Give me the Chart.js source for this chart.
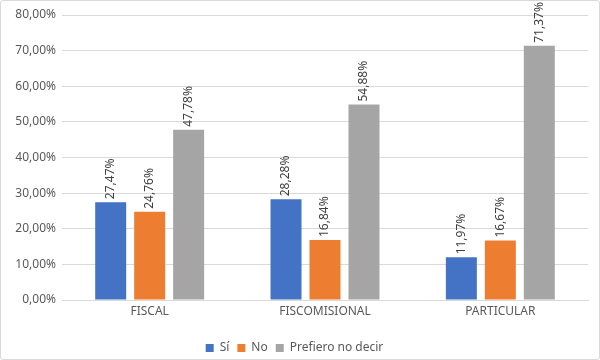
<!DOCTYPE html>
<html>
<head>
<meta charset="utf-8">
<script src="https://cdn.jsdelivr.net/npm/chart.js@4.4.1/dist/chart.umd.min.js"></script>
<style>
  html, body { margin: 0; padding: 0; background: #fff; }
  .box { width: 598px; height: 358px; border: 1px solid #d9d9d9; border-radius: 3px; position: relative; }
</style>
</head>
<body>
<div class="box"><canvas id="myBarChart" width="598" height="358"></canvas></div>
<script>
const categories = ['FISCAL', 'FISCOMISIONAL', 'PARTICULAR'];
const siValues = [27.47, 28.28, 11.97];
const noValues = [24.76, 16.84, 16.67];
const prefieroValues = [47.78, 54.88, 71.37];
const seriesNames = ['Sí', 'No', 'Prefiero no decir'];

function pct(v) {
    return v.toFixed(2).replace('.', ',') + '%';
}

// rotated value labels above each bar
const barLabels = {
    id: 'barLabels',
    afterLayout(chart) {
        // push the legend a bit lower, closer to the bottom edge
        chart.legend.top += 5;
        chart.legend.bottom += 5;
    },
    afterDatasetsDraw(chart) {
        const ctx = chart.ctx;
        ctx.save();
        ctx.fillStyle = '#404040';
        ctx.font = '12px "Noto Sans"';
        ctx.textAlign = 'left';
        ctx.textBaseline = 'middle';
        chart.data.datasets.forEach((ds, i) => {
            chart.getDatasetMeta(i).data.forEach((bar, j) => {
                ctx.save();
                ctx.translate(bar.x, bar.y - 3);
                ctx.rotate(-Math.PI / 2);
                ctx.fillText(pct(ds.data[j]), 0, 0);
                ctx.restore();
            });
        });
        ctx.restore();
    }
};

const ctx = document.getElementById('myBarChart').getContext('2d');
new Chart(ctx, {
    type: 'bar',
    data: {
        labels: categories,
        datasets: [
            { label: seriesNames[0], data: siValues, backgroundColor: '#4472C4' },
            { label: seriesNames[1], data: noValues, backgroundColor: '#ED7D31' },
            { label: seriesNames[2], data: prefieroValues, backgroundColor: '#A5A5A5' }
        ]
    },
    options: {
        responsive: false,
        animation: false,
        datasets: {
            bar: { categoryPercentage: 0.667, barPercentage: 0.795 }
        },
        layout: { padding: { top: 14, right: 11, left: 0, bottom: 0 } },
        plugins: {
            tooltip: { enabled: false },
            legend: {
                position: 'bottom',
                labels: {
                    usePointStyle: true,
                    pointStyle: 'rect',
                    boxWidth: 8,
                    boxHeight: 8,
                    padding: 8,
                    color: '#595959',
                    font: { family: '"Noto Sans"', size: 12 }
                }
            }
        },
        scales: {
            x: {
                grid: { display: false, drawTicks: false },
                border: { display: true, color: '#d9d9d9' },
                ticks: { color: '#595959', font: { family: '"Noto Sans"', size: 12 }, padding: 4 },
                afterFit: scale => { scale.height = 29; }
            },
            y: {
                min: 0,
                max: 80,
                grid: { color: '#d9d9d9', drawTicks: false },
                border: { display: false },
                ticks: {
                    stepSize: 10,
                    padding: 6,
                    color: '#595959',
                    font: { family: '"Noto Sans"', size: 12 },
                    callback: v => pct(v)
                },
                afterFit: scale => { scale.width = 61; }
            }
        }
    },
    plugins: [barLabels]
});
</script>
</body>
</html>
